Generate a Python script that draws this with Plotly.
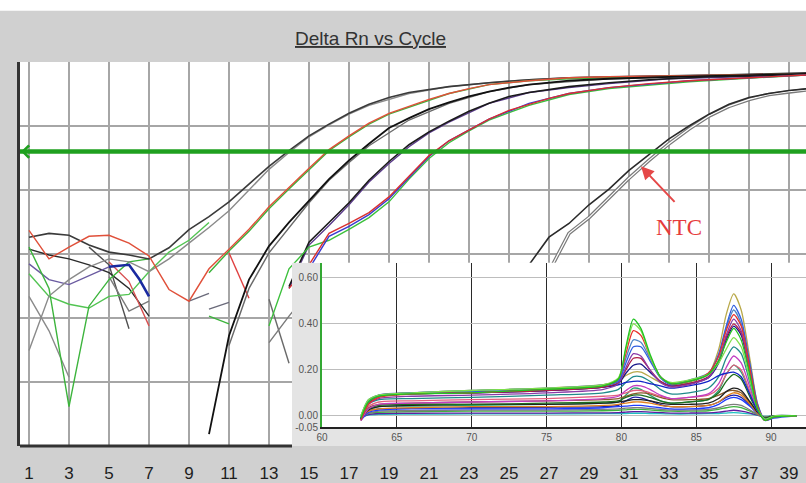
import plotly.graph_objects as go

# ---------------- tick data ----------------
cycle_ticks = list(range(1, 40, 2))
threshold_rn = 0.4
melt_ticks = [60, 65, 70, 75, 80, 85, 90]
deriv_ticks = [-0.05, 0.0, 0.2, 0.4, 0.6]
deriv_tick_text = ["-0.05", "0.00", "0.20", "0.40", "0.60"]

# ---------------- amplification curves (cycle, Delta Rn) ----------------
a1_cyc = [1,2,3,4,5,6,7,8,9,10,11,12,13,14,15,16,17,18,19,20,22,24,26,28,30,33,36,39,40]
a1_rn = [0.0183,0.0210,0.0196,0.0138,0.0107,0.00966,0.00838,0.0125,0.024,0.0384,0.0653,0.124,0.234,0.412,0.702,1.07,1.58,2.18,2.79,3.33,4.12,4.75,5.28,5.67,5.87,6.09,6.31,6.53,6.78]
a2_cyc = [1,2,3,4,5,6,7,8,9,10,11,12,13,14,15,16,17,18,20,22,24,26,28,30,34,40]
a2_rn = [0.000311,0.0022,0.00398,0.00631,0.00838,0.00753,0.00529,0.00838,0.0148,0.026,0.0475,0.1,0.21,0.385,0.678,1.04,1.53,2.1,3.22,4.12,4.75,5.28,5.67,5.87,6.09,6.53]
b_red_cyc = [1,2,3,4,5,6,7,8,9,10,11,12,13,14,15,16,17,18,19,20,21,22,23,24,26,28,30,34,40]
b_red_rn = [0.0234,0.00838,0.0128,0.0189,0.0196,0.0148,0.00931,0.00279,0.00183,0.00588,0.0119,0.0243,0.0547,0.111,0.218,0.428,0.702,1.11,1.58,2.03,2.60,3.22,3.84,4.43,5.10,5.67,5.87,6.09,6.53]
b_grn_cyc = [10,11,12,13,14,15,16,17,18,19,20,22,24,26,28,32,40]
b_grn_rn = [0.0051,0.0111,0.0226,0.051,0.1035,0.21,0.412,0.678,1.07,1.53,1.96,3.22,4.43,5.10,5.47,5.87,6.53]
c_blk_cyc = [10,11,12,13,14,15,16,17,18,19,20,21,22,23,24,25,26,28,30,33,36,40]
c_blk_rn = [1.53e-5,0.000528,0.00398,0.0133,0.0311,0.0678,0.148,0.29,0.529,0.931,1.33,1.83,2.34,2.90,3.45,3.98,4.43,5.10,5.47,5.87,6.09,6.53]
c_gry_cyc = [11,12,13,14,15,16,17,18,20,22,24,26,30,40]
c_gry_rn = [0.000371,0.0029,0.0104,0.026,0.0631,0.142,0.27,0.492,1.24,2.26,3.45,4.43,5.47,6.53]
d_blk_cyc = [14,15,16,17,18,19,20,21,22,23,24,25,26,27,28,30,32,35,40]
d_blk_rn = [0.00311,0.0153,0.0311,0.0631,0.142,0.279,0.510,0.809,1.19,1.70,2.26,2.90,3.33,3.71,4.12,4.75,5.28,5.87,6.31]
d_pur_cyc = [14,15,16,17,18,19,20,21,22,24,26,28,30,33,40]
d_pur_rn = [0.0029,0.0138,0.0279,0.0588,0.133,0.260,0.475,0.78,1.15,2.26,3.33,3.98,4.59,5.47,6.31]
e_red_cyc = [14,15,16,17,18,19,20,21,22,23,24,25,26,27,28,29,30,32,34,36,38,40]
e_red_rn = [0.0029,0.00678,0.021,0.030,0.0443,0.078,0.164,0.345,0.588,0.868,1.28,1.76,2.18,2.70,3.22,3.58,3.98,4.59,5.10,5.47,5.87,6.31]
e_grn_cyc = [13,14,15,16,17,18,19,20,21,22,23,24,26,28,30,34,40]
e_grn_rn = [0.000753,0.00588,0.0128,0.0164,0.0243,0.0371,0.0653,0.148,0.311,0.547,0.838,1.24,2.10,3.11,3.84,4.92,6.31]
e_blu_cyc = [15,16,17,18,19,20,21,22,24,26,28,30,34,40]
e_blu_rn = [0.00588,0.0189,0.027,0.0412,0.0728,0.158,0.333,0.588,1.28,2.26,3.22,3.98,5.10,6.31]
ntc1_cyc = [25,26,27,28,29,30,31,32,33,34,35,36,37,38,39,40]
ntc1_rn = [0.00107,0.00678,0.0183,0.030,0.0588,0.1035,0.203,0.358,0.631,1.0,1.53,2.18,2.79,3.22,3.58,3.84]
ntc2_cyc = [26,27,28,29,30,31,32,33,34,35,36,37,38,39,40]
ntc2_rn = [0.000753,0.00529,0.021,0.0371,0.0753,0.153,0.29,0.529,0.90,1.43,2.03,2.60,3.11,3.45,3.71]

# early-cycle noise fragments (cycle, Delta Rn)
n_green_v_cyc = [1,2,3,4,5,6,7]
n_green_v_rn = [0.0128,0.0029,4.12e-5,0.00153,0.00398,0.00753,0.00838]
n_green2_cyc = [1,2,3,4,5,6,7,8,9,10]
n_green2_rn = [0.00492,0.00218,0.00164,0.00143,0.00218,0.00234,0.00529,0.0107,0.0164,0.0311]
n_purple_cyc = [1,2,3,4,5]
n_purple_rn = [0.00702,0.00398,0.00333,0.00459,0.00631]
n_blue_cyc = [5,6,6.5,7]
n_blue_rn = [0.00631,0.00678,0.00412,0.00218]
n_gray1_cyc = [1,2,3]
n_gray1_rn = [0.00218,0.000631,0.000119]
n_gray2_cyc = [4,5,6]
n_gray2_rn = [0.0128,0.00678,0.000678]
n_gray3_cyc = [5,6,7]
n_gray3_rn = [0.00443,0.00128,0.00183]
n_red1_cyc = [5,6,7]
n_red1_rn = [0.00753,0.00371,0.000753]
n_black_cyc = [1,2,3,4,5,6,7]
n_black_rn = [0.0119,0.00966,0.00838,0.00678,0.0051,0.0029,0.00107]
n_gray4_cyc = [9,10]
n_gray4_rn = [0.00183,0.00243]
n_gray5_cyc = [10,11]
n_gray5_rn = [0.00138,0.00176]
n_green3_cyc = [10,11]
n_green3_rn = [0.00107,0.000809]
n_red2_cyc = [11,12]
n_red2_rn = [0.0104,0.00203]
n_gray6_cyc = [13,14]
n_gray6_rn = [0.00196,0.000196]
n_gray7_cyc = [13,14,15]
n_gray7_rn = [0.000412,0.00107,0.0026]

# ---------------- melt (derivative) curves ----------------
melt_temp = [62.6,63.1,63.8,66.0,70.0,75.0,78.8,79.8,80.3,80.8,81.3,81.9,82.6,83.3,84.5,85.8,86.5,87.0,87.5,88.0,88.6,89.1,89.6,90.2,91.7]
m01 = [-0.01,0.06,0.085,0.095,0.10,0.115,0.13,0.16,0.30,0.42,0.38,0.27,0.17,0.14,0.15,0.18,0.24,0.32,0.38,0.33,0.17,0.03,-0.02,-0.005,0.0]
m02 = [0.0,0.07,0.09,0.10,0.11,0.12,0.135,0.165,0.29,0.40,0.37,0.26,0.17,0.145,0.155,0.18,0.23,0.29,0.34,0.30,0.15,0.03,-0.015,0.0,0.0]
m03 = [-0.02,0.05,0.08,0.095,0.10,0.115,0.13,0.16,0.27,0.37,0.35,0.26,0.17,0.14,0.15,0.185,0.26,0.37,0.44,0.39,0.20,0.04,-0.02,-0.005,0.0]
m04 = [-0.01,0.06,0.085,0.10,0.105,0.115,0.13,0.15,0.23,0.30,0.30,0.24,0.165,0.135,0.15,0.18,0.27,0.39,0.48,0.42,0.22,0.05,-0.02,-0.01,0.0]
m05 = [0.0,0.07,0.09,0.10,0.11,0.12,0.135,0.155,0.25,0.33,0.32,0.25,0.17,0.14,0.155,0.185,0.26,0.38,0.46,0.40,0.21,0.04,-0.015,-0.005,0.0]
m06 = [-0.02,0.05,0.075,0.085,0.09,0.10,0.115,0.14,0.21,0.27,0.26,0.20,0.145,0.125,0.135,0.165,0.24,0.35,0.42,0.37,0.19,0.04,-0.02,-0.005,0.0]
m07 = [-0.01,0.06,0.085,0.095,0.10,0.11,0.125,0.145,0.20,0.25,0.25,0.20,0.15,0.13,0.14,0.17,0.24,0.34,0.40,0.36,0.18,0.035,-0.02,-0.005,0.0]
m08 = [-0.015,0.055,0.085,0.095,0.10,0.11,0.125,0.14,0.185,0.22,0.225,0.19,0.15,0.13,0.14,0.165,0.23,0.33,0.39,0.35,0.18,0.03,-0.02,-0.005,0.0]
m09 = [0.0,0.065,0.09,0.10,0.11,0.12,0.135,0.15,0.175,0.19,0.19,0.17,0.145,0.13,0.145,0.18,0.29,0.44,0.53,0.46,0.24,0.05,-0.02,-0.005,0.0]
m10 = [-0.01,0.05,0.07,0.075,0.08,0.09,0.10,0.115,0.145,0.17,0.17,0.15,0.115,0.095,0.10,0.12,0.17,0.25,0.30,0.27,0.14,0.03,-0.015,-0.005,0.0]
m11 = [-0.02,0.03,0.05,0.055,0.06,0.065,0.075,0.085,0.11,0.13,0.13,0.115,0.09,0.075,0.08,0.095,0.14,0.21,0.26,0.23,0.12,0.025,-0.015,-0.005,0.0]
m12 = [-0.01,0.04,0.06,0.065,0.07,0.075,0.085,0.09,0.10,0.11,0.11,0.10,0.085,0.075,0.08,0.09,0.12,0.18,0.22,0.20,0.10,0.02,-0.015,-0.005,0.0]
m13 = [-0.01,0.03,0.045,0.05,0.05,0.055,0.06,0.065,0.08,0.09,0.09,0.08,0.065,0.055,0.06,0.07,0.10,0.15,0.18,0.16,0.08,0.02,-0.01,0.0,0.0]
m14 = [-0.015,0.025,0.04,0.045,0.05,0.05,0.055,0.06,0.065,0.07,0.07,0.065,0.055,0.05,0.05,0.055,0.075,0.105,0.12,0.11,0.06,0.015,-0.01,0.0,0.0]
m15 = [-0.01,0.02,0.03,0.035,0.04,0.04,0.045,0.05,0.055,0.06,0.06,0.055,0.045,0.04,0.04,0.045,0.06,0.085,0.10,0.09,0.05,0.01,-0.01,0.0,0.0]
m16 = [-0.02,0.015,0.025,0.03,0.03,0.03,0.035,0.04,0.042,0.045,0.045,0.04,0.035,0.03,0.03,0.035,0.05,0.07,0.08,0.07,0.04,0.01,-0.01,0.0,0.0]
m17 = [-0.01,0.01,0.02,0.022,0.025,0.025,0.028,0.03,0.033,0.035,0.035,0.032,0.028,0.025,0.025,0.028,0.035,0.045,0.05,0.045,0.025,0.005,-0.005,0.0,0.0]
m18 = [-0.015,0.01,0.015,0.018,0.02,0.02,0.022,0.024,0.026,0.028,0.028,0.026,0.022,0.02,0.02,0.022,0.028,0.035,0.04,0.035,0.02,0.005,-0.005,0.0,0.0]
m19 = [-0.01,0.005,0.01,0.011,0.012,0.012,0.013,0.014,0.016,0.018,0.018,0.016,0.014,0.012,0.012,0.013,0.016,0.02,0.024,0.02,0.012,0.003,-0.005,0.0,0.0]
m20 = [-0.005,0.003,0.006,0.007,0.008,0.008,0.009,0.01,0.01,0.011,0.011,0.01,0.009,0.008,0.008,0.009,0.01,0.012,0.014,0.012,0.008,0.002,-0.003,0.0,0.0]
m21 = [-0.01,0.02,0.03,0.032,0.035,0.037,0.04,0.045,0.065,0.08,0.078,0.065,0.048,0.04,0.04,0.045,0.06,0.08,0.09,0.08,0.045,0.01,-0.01,0.0,0.0]
m22 = [-0.01,0.035,0.05,0.055,0.06,0.065,0.07,0.075,0.085,0.095,0.10,0.095,0.08,0.07,0.07,0.075,0.09,0.105,0.11,0.10,0.055,0.012,-0.01,0.0,0.0]
m23 = [-0.01,0.06,0.09,0.10,0.10,0.11,0.125,0.135,0.145,0.15,0.15,0.14,0.13,0.12,0.13,0.15,0.175,0.185,0.19,0.17,0.09,0.02,-0.015,0.0,0.0]
m24 = [-0.015,0.025,0.04,0.042,0.045,0.05,0.055,0.06,0.09,0.12,0.115,0.09,0.065,0.055,0.06,0.07,0.11,0.18,0.22,0.19,0.10,0.02,-0.01,0.0,0.0]
melt_colors = ["#22c322","#7ee04a","#e8302a","#2f5fe0","#4f86c6","#8a3aa8","#b01c48","#141488",
               "#b9a94a","#1f8a8a","#c23ec2","#e2607e","#1e6e1e","#202020","#e2821e","#1e3cff",
               "#7d7d7d","#3fb33f","#5e1ea0","#1ec2c2","#2020a8","#8a5a2a","#1024c8","#2aa070"]

fig = go.Figure()


def add_line(x, y, color, width=1.4, xa="x", ya="y"):
    fig.add_trace(go.Scatter(x=x, y=y, mode="lines", line=dict(color=color, width=width),
                             xaxis=xa, yaxis=ya, hoverinfo="skip", showlegend=False))


# noise fragments
add_line(n_gray1_cyc, n_gray1_rn, "#8a8a8a")
add_line(n_gray2_cyc, n_gray2_rn, "#505050")
add_line(n_gray3_cyc, n_gray3_rn, "#7a7a7a")
add_line(n_black_cyc, n_black_rn, "#2a2a2a")
add_line(n_purple_cyc, n_purple_rn, "#6a5aa0")
add_line(n_red1_cyc, n_red1_rn, "#d85050")
add_line(n_green2_cyc, n_green2_rn, "#52c452")
add_line(n_green_v_cyc, n_green_v_rn, "#3cb43c")
add_line(n_blue_cyc, n_blue_rn, "#1a2aa0", 2.6)
add_line(n_gray4_cyc, n_gray4_rn, "#6a6a7a")
add_line(n_gray5_cyc, n_gray5_rn, "#6a6a7a")
add_line(n_green3_cyc, n_green3_rn, "#3cb43c")
add_line(n_red2_cyc, n_red2_rn, "#e04040")
add_line(n_gray6_cyc, n_gray6_rn, "#6a6a6a")
add_line(n_gray7_cyc, n_gray7_rn, "#7a7a7a")

# amplification curves
add_line(a2_cyc, a2_rn, "#8a8a8a")
add_line(a1_cyc, a1_rn, "#3a3a3a", 1.6)
add_line(b_grn_cyc, b_grn_rn, "#3cb43c")
add_line(b_red_cyc, b_red_rn, "#e0503a")
add_line(c_gry_cyc, c_gry_rn, "#6a6a6a")
add_line(c_blk_cyc, c_blk_rn, "#111111", 1.8)
add_line(d_pur_cyc, d_pur_rn, "#5a3a8a")
add_line(d_blk_cyc, d_blk_rn, "#1a1a1a", 1.6)
add_line(e_grn_cyc, e_grn_rn, "#3cc03c")
add_line(e_blu_cyc, e_blu_rn, "#3a3ad0")
add_line(e_red_cyc, e_red_rn, "#d83030")
# NTC curves (one hollow-looking)
add_line(ntc2_cyc, ntc2_rn, "#7a7a7a", 3.6)
add_line(ntc2_cyc, ntc2_rn, "#ffffff", 1.2)
add_line(ntc1_cyc, ntc1_rn, "#2a2a2a", 1.6)
# threshold
add_line([0.55, 39.85], [threshold_rn, threshold_rn], "#1fa01f", 4.5)

# inset panel background (x2/y2) and melt curves (x3/y3)
fig.add_trace(go.Scatter(x=[0, 1, 1, 0, 0], y=[0, 0, 1, 1, 0], mode="lines", fill="toself",
                         fillcolor="#e4e4e4", line=dict(width=0), xaxis="x2", yaxis="y2",
                         hoverinfo="skip", showlegend=False))
melt_curves = [m24, m22, m21, m20, m19, m18, m17, m16, m15, m14, m13, m12, m11, m10,
               m23, m09, m08, m07, m06, m05, m04, m03, m02, m01]
melt_curve_colors = [melt_colors[23], melt_colors[21], melt_colors[20], melt_colors[19], melt_colors[18],
                     melt_colors[17], melt_colors[16], melt_colors[15], melt_colors[14], melt_colors[13],
                     melt_colors[12], melt_colors[11], melt_colors[10], melt_colors[9], melt_colors[22],
                     melt_colors[8], melt_colors[7], melt_colors[6], melt_colors[5], melt_colors[4],
                     melt_colors[3], melt_colors[2], melt_colors[1], melt_colors[0]]
for vals, col in zip(melt_curves, melt_curve_colors):
    fig.add_trace(go.Scatter(x=melt_temp, y=vals, mode="lines",
                             line=dict(color=col, width=1.3, shape="spline", smoothing=0.7),
                             xaxis="x3", yaxis="y3", hoverinfo="skip", showlegend=False))

font = "Liberation Sans, Arial, sans-serif"
tick_font = "Liberation Sans Narrow, Arial Narrow, Liberation Sans, Arial, sans-serif"
x_left_px = 20
plot_w = 786
plot_h = 390
plot_bottom = 452


def px_x(p):
    return (p - x_left_px) / plot_w


def px_y(p):
    return (plot_bottom - p) / plot_h


fig.update_layout(
    width=806, height=483, autosize=False,
    margin=dict(l=20, r=0, t=62, b=31),
    paper_bgcolor="#d0d0d0", plot_bgcolor="#ffffff",
    xaxis=dict(range=[0.55, 39.85], tickvals=cycle_ticks, ticktext=[str(t) for t in cycle_ticks],
               showgrid=True, gridcolor="#a6a6a6", gridwidth=2, zeroline=False, showline=False,
               ticks="outside", ticklen=12, tickcolor="rgba(0,0,0,0)",
               tickfont=dict(family=tick_font, size=17, color="#1e1e1e"), domain=[0, 1]),
    yaxis=dict(type="log", range=[-5, 1], dtick=1, showgrid=True, gridcolor="#a6a6a6", gridwidth=2,
               showticklabels=False, ticks="", zeroline=False, showline=True,
               linecolor="#333333", linewidth=3, domain=[0, 1]),
    xaxis2=dict(domain=[px_x(292), 1.0], range=[0, 1], visible=False, anchor="y2", fixedrange=True),
    yaxis2=dict(domain=[0.0, px_y(266)], range=[0, 1], visible=False, anchor="x2", fixedrange=True),
    xaxis3=dict(domain=[px_x(322), 1.0], range=[60, 92.33], anchor="y3", tickvals=melt_ticks,
                showgrid=True, gridcolor="#2a2a2a", gridwidth=1, zeroline=False,
                showline=True, linecolor="#222222", linewidth=1.5, ticks="",
                tickfont=dict(family=font, size=10, color="#555555")),
    yaxis3=dict(domain=[px_y(433), px_y(266)], range=[-0.05, 0.665], anchor="x3",
                tickvals=deriv_ticks, ticktext=deriv_tick_text,
                showgrid=True, gridcolor="#bdbdbd", gridwidth=1, zeroline=False,
                showline=True, linecolor="#33a833", linewidth=2, ticks="",
                tickfont=dict(family=font, size=10, color="#555555")),
    shapes=[
        dict(type="rect", xref="paper", yref="paper", x0=-0.05, x1=1.05, y0=px_y(10), y1=px_y(-5),
             fillcolor="#ffffff", line=dict(width=0), layer="below"),
        dict(type="line", xref="paper", yref="paper", x0=0, x1=px_x(292), y0=0, y1=0,
             line=dict(color="#333333", width=3), layer="above"),
    ],
    annotations=[
        dict(text="<u>Delta Rn vs Cycle</u>", xref="paper", yref="paper", x=px_x(370), y=px_y(38),
             xanchor="center", yanchor="middle", showarrow=False,
             font=dict(family=font, size=19, color="#333333")),
        dict(text="NTC", xref="paper", yref="paper", x=px_x(679), y=px_y(230),
             xanchor="center", yanchor="middle", showarrow=False,
             font=dict(family="Liberation Serif, Times New Roman, serif", size=23, color="#e63c3c")),
        dict(text="", xref="paper", yref="paper", x=px_x(641), y=px_y(168), showarrow=True,
             ax=35, ay=37, arrowhead=2, arrowsize=1.3, arrowwidth=2, arrowcolor="#e54848"),
        dict(text="", xref="paper", yref="paper", x=px_x(21), y=px_y(153), showarrow=True,
             ax=12, ay=0, arrowhead=4, arrowsize=1.2, arrowwidth=2, arrowcolor="#1fa01f"),
    ],
)

fig.write_html("out.html", config={"displayModeBar": False},
               post_script="document.body.style.margin='0px';document.body.style.overflow='hidden';")
